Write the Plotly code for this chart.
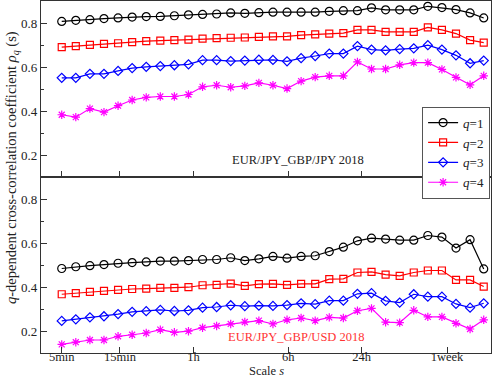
import plotly.graph_objects as go
from plotly.subplots import make_subplots

# Scales in minutes (31 log-spaced scales)
scales = [5, 6.52, 8.51, 11.1, 14.48, 18.89, 24.64, 32.14, 41.92, 54.69, 71.34,
          93.06, 121.4, 158.4, 206.6, 269.5, 351.5, 458.5, 598.1, 780.2, 1017.7,
          1327.6, 1731.7, 2259, 2947, 3844, 5014, 6541, 8532, 11130, 14400]

tick_vals = [5, 15, 60, 360, 1440, 7200]
tick_text = ["5min", "15min", "1h", "6h", "24h", "1week"]

# Top panel: EUR/JPY_GBP/JPY 2018
top_q1 = [0.807, 0.812, 0.815, 0.820, 0.823, 0.827, 0.829, 0.830, 0.833, 0.837, 0.839,
          0.841, 0.846, 0.844, 0.847, 0.849, 0.849, 0.849, 0.849, 0.853, 0.856, 0.856,
          0.869, 0.860, 0.860, 0.860, 0.876, 0.870, 0.861, 0.846, 0.823]
top_q2 = [0.690, 0.695, 0.701, 0.705, 0.708, 0.713, 0.718, 0.720, 0.722, 0.724, 0.729,
          0.731, 0.733, 0.734, 0.737, 0.739, 0.739, 0.745, 0.748, 0.752, 0.754, 0.769,
          0.769, 0.760, 0.760, 0.760, 0.780, 0.769, 0.752, 0.722, 0.711]
top_q3 = [0.551, 0.551, 0.569, 0.569, 0.582, 0.595, 0.601, 0.604, 0.608, 0.612, 0.631,
          0.631, 0.627, 0.629, 0.633, 0.632, 0.626, 0.640, 0.650, 0.661, 0.661, 0.695,
          0.679, 0.676, 0.681, 0.685, 0.699, 0.679, 0.653, 0.617, 0.629]
top_q4 = [0.383, 0.372, 0.411, 0.395, 0.424, 0.450, 0.462, 0.466, 0.466, 0.475, 0.510,
          0.517, 0.508, 0.514, 0.528, 0.517, 0.502, 0.536, 0.554, 0.560, 0.560, 0.623,
          0.591, 0.591, 0.610, 0.620, 0.620, 0.589, 0.553, 0.519, 0.560]

# Bottom panel: EUR/JPY_GBP/USD 2018
bot_q1 = [0.484, 0.492, 0.497, 0.502, 0.508, 0.511, 0.514, 0.518, 0.518, 0.520, 0.525,
          0.525, 0.533, 0.520, 0.528, 0.539, 0.531, 0.539, 0.542, 0.561, 0.581, 0.610,
          0.622, 0.618, 0.613, 0.613, 0.634, 0.627, 0.577, 0.615, 0.482]
bot_q2 = [0.367, 0.372, 0.378, 0.382, 0.387, 0.391, 0.393, 0.396, 0.396, 0.399, 0.408,
          0.410, 0.415, 0.405, 0.413, 0.414, 0.410, 0.414, 0.414, 0.436, 0.437, 0.466,
          0.469, 0.456, 0.451, 0.466, 0.475, 0.475, 0.432, 0.432, 0.402]
bot_q3 = [0.246, 0.253, 0.262, 0.267, 0.277, 0.287, 0.290, 0.296, 0.291, 0.294, 0.306,
          0.309, 0.317, 0.313, 0.315, 0.314, 0.318, 0.326, 0.322, 0.338, 0.338, 0.369,
          0.372, 0.337, 0.329, 0.367, 0.356, 0.356, 0.323, 0.306, 0.326]
bot_q4 = [0.139, 0.149, 0.159, 0.159, 0.176, 0.183, 0.191, 0.206, 0.194, 0.199, 0.215,
          0.223, 0.232, 0.241, 0.247, 0.232, 0.251, 0.259, 0.247, 0.262, 0.259, 0.292,
          0.303, 0.240, 0.238, 0.294, 0.264, 0.264, 0.235, 0.209, 0.251]

labels = ["<i>q</i>=1", "<i>q</i>=2", "<i>q</i>=3", "<i>q</i>=4"]
colors = ["#000000", "#ff0000", "#0000ff", "#ff00ff"]
symbols = ["circle-open", "square-open", "diamond-open", "asterisk-open"]
sizes = [8, 7, 7, 7]

FONT = "Liberation Serif"

fig = make_subplots(rows=2, cols=1, shared_xaxes=True, vertical_spacing=0)

for i, (ys, name) in enumerate(zip([top_q1, top_q2, top_q3, top_q4], labels)):
    fig.add_trace(go.Scatter(
        x=scales, y=ys, mode="lines+markers", name=name,
        line=dict(color=colors[i], width=1.2),
        marker=dict(symbol=symbols[i], size=sizes[i], color=colors[i],
                    line=dict(color=colors[i], width=1.2)),
        showlegend=True), row=1, col=1)

for i, ys in enumerate([bot_q1, bot_q2, bot_q3, bot_q4]):
    fig.add_trace(go.Scatter(
        x=scales, y=ys, mode="lines+markers", name=labels[i],
        line=dict(color=colors[i], width=1.2),
        marker=dict(symbol=symbols[i], size=sizes[i], color=colors[i],
                    line=dict(color=colors[i], width=1.2)),
        showlegend=False), row=2, col=1)

xcommon = dict(type="log", range=[0.529, 4.218], tickvals=tick_vals, ticktext=tick_text,
               ticks="inside", ticklen=6, tickcolor="#333", showline=True, linecolor="#333",
               linewidth=1.2, mirror=True, showgrid=False, zeroline=False,
               tickfont=dict(family=FONT, size=12.5, color="#222"))
fig.update_xaxes(**xcommon)
fig.update_xaxes(showticklabels=False, row=1, col=1)
fig.update_xaxes(ticklabelstandoff=-8, row=2, col=1)

ycommon = dict(range=[0.1, 0.9], tickvals=[0.2, 0.4, 0.6, 0.8],
               ticktext=["0.2", "0.4", "0.6", "0.8"],
               ticks="inside", ticklen=6, tickcolor="#333", showline=True, linecolor="#333",
               linewidth=1.2, mirror=True, showgrid=False, zeroline=False,
               minor=dict(tickvals=[0.1, 0.3, 0.5, 0.7, 0.9], ticks="inside", ticklen=3,
                          tickcolor="#333"),
               tickfont=dict(family=FONT, size=13, color="#222"))
fig.update_yaxes(**ycommon)

fig.update_layout(
    width=493, height=378,
    margin=dict(l=41, r=2, t=1, b=25, autoexpand=False),
    paper_bgcolor="white", plot_bgcolor="white",
    font=dict(family=FONT, size=13, color="#222"),
    legend=dict(x=0.998, y=0.70, xanchor="right", yanchor="top",
                bgcolor="white", bordercolor="#555", borderwidth=1,
                font=dict(family=FONT, size=13, color="#222"),
                itemwidth=30, tracegroupgap=0),
    annotations=[
        dict(text="EUR/JPY_GBP/JPY 2018", xref="paper", yref="paper",
             x=(297.5 - 41) / 450, y=1 - (160 - 1) / 352, xanchor="center", yanchor="middle",
             showarrow=False, font=dict(family=FONT, size=12.5, color="#222")),
        dict(text="EUR/JPY_GBP/USD 2018", xref="paper", yref="paper",
             x=(296 - 41) / 450, y=1 - (337 - 1) / 352, xanchor="center", yanchor="middle",
             showarrow=False, font=dict(family=FONT, size=12.5, color="#ff3333")),
        dict(text="Scale <i>s</i>", xref="paper", yref="paper",
             x=(266 - 41) / 450, y=0, yshift=-18, xanchor="center", yanchor="middle",
             showarrow=False, font=dict(family=FONT, size=12.5, color="#222")),
        dict(text="<i>q</i>-dependent cross-correlation coefficient <i>ρ<sub>q</sub></i> (s)",
             xref="paper", yref="paper", x=0, xshift=-29, y=1 - (168 - 1) / 352,
             xanchor="center", yanchor="middle", textangle=-90,
             showarrow=False, font=dict(family=FONT, size=14.5, color="#222")),
    ],
)

fig.write_html("out.html", config={"displayModeBar": False},
               post_script="document.body.style.margin='0';document.body.style.padding='0';"
                           "document.body.style.overflow='hidden';")
